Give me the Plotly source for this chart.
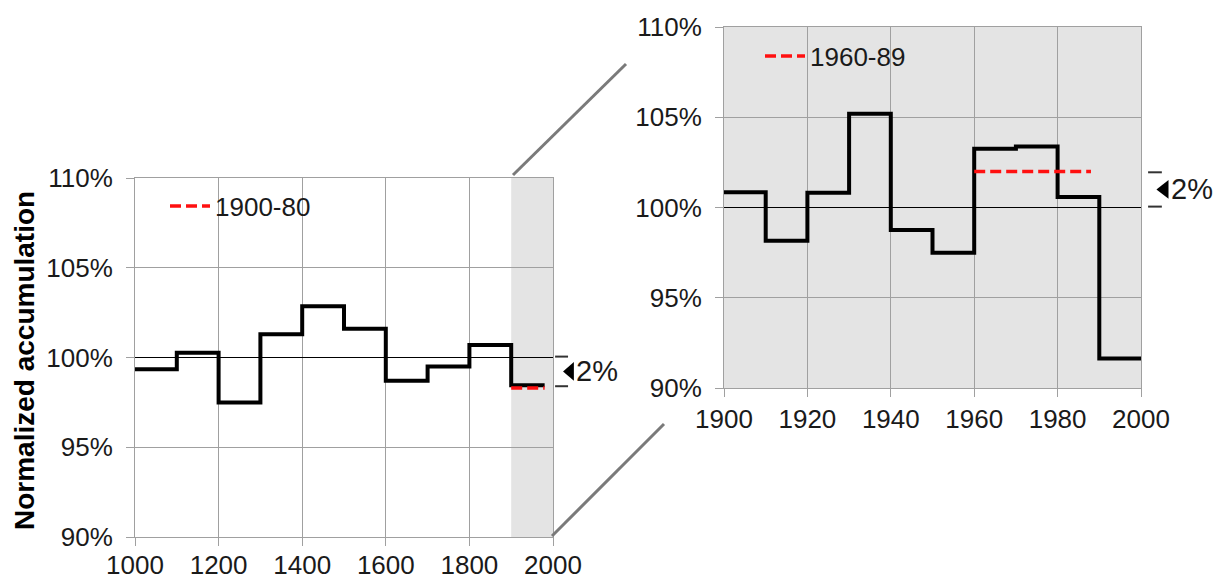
import plotly.graph_objects as go

# ---------------- data ----------------
left_years = [1000, 1100, 1200, 1300, 1400, 1500, 1600, 1700, 1800, 1900]
left_values = [99.35, 100.26, 97.5, 101.3, 102.85, 101.6, 98.7, 99.5, 100.7, 98.45]
left_end_year = 1980
left_ref_years = [1900, 1980]
left_ref_values = [98.3, 98.3]
left_ref_label = "1900-80"
left_bracket = [98.4, 100.05]

right_years = [1900, 1910, 1920, 1930, 1940, 1950, 1960, 1970, 1980, 1990]
right_values = [100.84, 98.16, 100.82, 105.19, 98.75, 97.49, 103.25, 103.38, 100.58, 91.63]
right_end_year = 2000
right_ref_years = [1960, 1988]
right_ref_values = [102.0, 102.0]
right_ref_label = "1960-89"
right_bracket = [100.05, 101.95]

left_xticks = [1000, 1200, 1400, 1600, 1800, 2000]
right_xticks = [1900, 1920, 1940, 1960, 1980, 2000]
y_ticks = [90, 95, 100, 105, 110]
y_ticktext = ["90%", "95%", "100%", "105%", "110%"]
bracket_label = "2%"
y_title = "Normalized accumulation"

# ---------------- layout constants ----------------
OFF = 8                     # page body margin
W, H = 1224 - OFF, 581 - OFF
FONT = "Liberation Sans, Arial, sans-serif"
GRID = "#a0a0a0"
SHADE = "#e4e4e4"


def px_x(p):
    return (p - OFF) / W


def px_y(p):
    return 1 - (p - OFF) / H


L_dom_x = [px_x(135), px_x(553)]
L_dom_y = [px_y(537), px_y(178)]
R_dom_x = [px_x(724), px_x(1141)]
R_dom_y = [px_y(388), px_y(27)]

fig = go.Figure()

# black step lines
fig.add_trace(go.Scatter(
    x=left_years + [left_end_year], y=left_values + [left_values[-1]],
    mode="lines", line=dict(color="black", width=4, shape="hv"),
    xaxis="x", yaxis="y", showlegend=False, hoverinfo="skip"))
fig.add_trace(go.Scatter(
    x=right_years + [right_end_year], y=right_values + [right_values[-1]],
    mode="lines", line=dict(color="black", width=4, shape="hv"),
    xaxis="x2", yaxis="y2", showlegend=False, hoverinfo="skip"))

# red dashed reference means
fig.add_trace(go.Scatter(
    x=left_ref_years, y=left_ref_values, name=left_ref_label,
    mode="lines", line=dict(color="#ff1010", width=3.5, dash="11px,5px"),
    xaxis="x", yaxis="y", legend="legend"))
fig.add_trace(go.Scatter(
    x=right_ref_years, y=right_ref_values, name=right_ref_label,
    mode="lines", line=dict(color="#ff1010", width=3.5, dash="11px,5px"),
    xaxis="x2", yaxis="y2", legend="legend2"))

tickfont = dict(family=FONT, size=26, color="#1a1a1a")
axis_common = dict(
    showgrid=True, gridcolor=GRID, gridwidth=1,
    showline=True, linecolor=GRID, linewidth=1, mirror=True,
    ticks="outside", ticklen=8, tickcolor=GRID,
    zeroline=False, tickfont=tickfont, automargin=False,
)

fig.update_layout(
    width=W, height=H, autosize=False,
    margin=dict(l=0, r=0, t=0, b=0),
    paper_bgcolor="white", plot_bgcolor="white",
    xaxis=dict(domain=L_dom_x, anchor="y", range=[1000, 2000],
               tickvals=left_xticks, ticklabelstandoff=-3, **axis_common),
    yaxis=dict(domain=L_dom_y, anchor="x", range=[90, 110],
               tickvals=y_ticks, ticktext=y_ticktext, ticklabelstandoff=8,
               **axis_common),
    xaxis2=dict(domain=R_dom_x, anchor="y2", range=[1900, 2000],
                tickvals=right_xticks, **axis_common),
    yaxis2=dict(domain=R_dom_y, anchor="x2", range=[90, 110],
                tickvals=y_ticks, ticktext=y_ticktext, ticklabelstandoff=8,
                **axis_common),
    legend=dict(x=px_x(165), y=px_y(206), xanchor="left", yanchor="middle",
                bgcolor="rgba(0,0,0,0)", borderwidth=0, itemwidth=40,
                font=dict(family=FONT, size=26, color="#1a1a1a")),
    legend2=dict(x=px_x(760), y=px_y(56), xanchor="left", yanchor="middle",
                 bgcolor="rgba(0,0,0,0)", borderwidth=0, itemwidth=40,
                 font=dict(family=FONT, size=26, color="#1a1a1a")),
)

shapes = []
# grey band on left panel for the zoomed period
shapes.append(dict(type="rect", xref="x", yref="y domain",
                   x0=right_xticks[0], x1=right_xticks[-1], y0=0, y1=1,
                   fillcolor=SHADE, line=dict(width=0), layer="below"))
# grey background of the right panel
shapes.append(dict(type="rect", xref="x2 domain", yref="y2 domain",
                   x0=0, x1=1, y0=0, y1=1,
                   fillcolor=SHADE, line=dict(width=0), layer="below"))
# 100% reference lines
for xr, yr in (("x domain", "y"), ("x2 domain", "y2")):
    shapes.append(dict(type="line", xref=xr, yref=yr, x0=0, x1=1,
                       y0=100, y1=100, line=dict(color="black", width=1),
                       layer="above"))


# bracket marks and triangles
def bracket(xr, yr, vals, x0, x1, tx0, tx1):
    out = []
    for v in vals:
        out.append(dict(type="line", xref=xr, yref=yr, x0=x0, x1=x1,
                        y0=v, y1=v, line=dict(color="#333333", width=2)))
    mid = (vals[0] + vals[1]) / 2
    half = 0.52
    out.append(dict(type="path", xref=xr, yref=yr,
                    path=f"M {tx0},{mid} L {tx1},{mid + half} L {tx1},{mid - half} Z",
                    fillcolor="black", line=dict(width=0)))
    return out


shapes += bracket("x domain", "y", left_bracket, 1.005, 1.036, 1.024, 1.050)
shapes += bracket("x2 domain", "y2", right_bracket, 1.017, 1.050, 1.037, 1.066)

# connector lines between panels
shapes.append(dict(type="line", xref="paper", yref="paper",
                   x0=px_x(513), y0=px_y(175), x1=px_x(626), y1=px_y(64),
                   line=dict(color="#7a7a7a", width=3)))
shapes.append(dict(type="line", xref="paper", yref="paper",
                   x0=px_x(552), y0=px_y(536), x1=px_x(664), y1=px_y(424),
                   line=dict(color="#7a7a7a", width=3)))
fig.update_layout(shapes=shapes)

annotations = [
    dict(xref="x domain", yref="y", x=1.050, y=sum(left_bracket) / 2,
         text=bracket_label, showarrow=False, xanchor="left", yanchor="middle",
         font=dict(family=FONT, size=29, color="#1a1a1a")),
    dict(xref="x2 domain", yref="y2", x=1.066, y=sum(right_bracket) / 2,
         text=bracket_label, showarrow=False, xanchor="left", yanchor="middle",
         font=dict(family=FONT, size=29, color="#1a1a1a")),
    dict(xref="paper", yref="paper", x=px_x(24), y=px_y(361),
         text="<b>" + y_title + "</b>", textangle=-90, showarrow=False,
         xanchor="center", yanchor="middle",
         font=dict(family=FONT, size=28, color="black")),
]
fig.update_layout(annotations=annotations)

fig.write_html("out.html")
